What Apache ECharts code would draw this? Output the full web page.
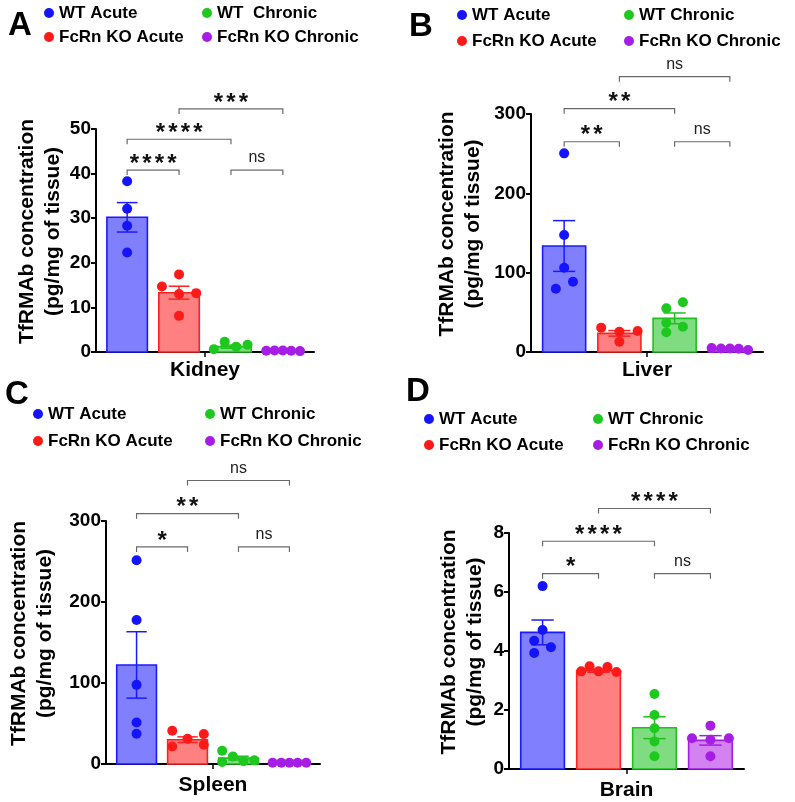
<!DOCTYPE html>
<html>
<head>
<meta charset="utf-8">
<script src="https://cdn.jsdelivr.net/npm/echarts@6/dist/echarts.min.js"></script>
<style>
html, body { margin: 0; padding: 0; background: #fff; }
#main { width: 795px; height: 802px; }
</style>
</head>
<body>
<div id="main"></div>
<script>
const groups = ['WT Acute', 'FcRn KO Acute', 'WT Chronic', 'FcRn KO Chronic']
const tissues = ['Kidney', 'Liver', 'Spleen', 'Brain']
const yMax = [50, 300, 300, 8]
const yStep = [10, 100, 100, 2]

// Kidney
const kidneyMean = [30.2, 13.3, 1.2, 0.25]
const kidneyErr = [3.3, 1.45, 0.35, 0.05]
const kidneyPoints = [[38.3, 32.1, 28.3, 22.3], [14.7, 17.4, 13.0, 13.2, 8.1], [0.6, 2.3, 1.2, 1.6], [0.3, 0.35, 0.35, 0.3, 0.2]]
const kidneyJitter = [[0, 0, 0, 0], [-0.33, 0, 0, 0.33, 0], [-0.33, -0.12, 0.1, 0.32], [-0.32, -0.16, 0, 0.16, 0.33]]
const kidneyStats = [[0, 1, 40.8, '****'], [0, 2, 47.7, '****'], [1, 3, 54.5, '***'], [2, 3, 40.8, 'ns']]

// Liver
const liverMean = [133.6, 23.5, 42.4, 4]
const liverErr = [32, 3.5, 6.8, 0.5]
const liverPoints = [[250.4, 147.5, 106.3, 79.8, 88.6], [30.7, 25.6, 26.5, 13.0], [55, 62.6, 36.9, 31.9, 24.8], [5, 4.5, 4.5, 4, 2.5]]
const liverJitter = [[0, 0, 0, -0.15, 0.16], [-0.33, 0, 0.33, 0], [-0.15, 0.15, -0.15, 0.15, -0.15], [-0.33, -0.16, 0, 0.16, 0.33]]
const liverStats = [[0, 1, 265, '**'], [0, 2, 306.7, '**'], [1, 3, 347, 'ns'], [2, 3, 265, 'ns']]

// Spleen
const spleenMean = [122.3, 30, 7.3, 1.5]
const spleenErr = [41, 3.5, 2.3, 0.2]
const spleenPoints = [[251.5, 177.7, 97.7, 51.3, 37.4], [41, 31.2, 36.9, 21.7, 23.8], [16.4, 9.4, 2.5, 3.3, 4.5], [1.5, 1.5, 1.5, 1.5, 1.5]]
const spleenJitter = [[0, 0, 0, 0, 0], [-0.3, 0, 0.32, -0.3, 0.32], [-0.32, -0.11, -0.32, 0.1, 0.31], [-0.33, -0.16, 0, 0.16, 0.33]]
const spleenStats = [[0, 1, 268, '*'], [0, 2, 309, '**'], [1, 3, 350, 'ns'], [2, 3, 268, 'ns']]

// Brain
const brainMean = [4.63, 3.33, 1.4, 0.97]
const brainErr = [0.42, 0.05, 0.37, 0.16]
const brainPoints = [[6.2, 4.71, 4.35, 4.13, 3.93], [3.31, 3.48, 3.31, 3.46, 3.29], [2.54, 1.83, 1.38, 0.93, 0.43], [1.47, 1.04, 0.99, 1.04, 0.43]]
const brainJitter = [[0, 0, -0.15, 0.15, -0.15], [-0.31, -0.16, 0, 0.16, 0.32], [0, 0, 0, 0, 0], [0, -0.33, 0, 0.33, 0]]
const brainStats = [[0, 1, 6.62, '*'], [0, 2, 7.72, '****'], [1, 3, 8.83, '****'], [2, 3, 6.62, 'ns']]

const dotColors = ['#1414ff', '#ff1a1a', '#1ec81e', '#a61ee6']
const fillColors = ['#8080ff', '#ff8080', '#80dc80', '#d382f2']
const lineColors = ['#1a1aff', '#ff2020', '#20c020', '#a020e0']
const FONT = '"Liberation Sans", Arial, sans-serif'

const panels = [
  { mean: kidneyMean, err: kidneyErr, points: kidneyPoints, jitter: kidneyJitter, stats: kidneyStats },
  { mean: liverMean, err: liverErr, points: liverPoints, jitter: liverJitter, stats: liverStats },
  { mean: spleenMean, err: spleenErr, points: spleenPoints, jitter: spleenJitter, stats: spleenStats },
  { mean: brainMean, err: brainErr, points: brainPoints, jitter: brainJitter, stats: brainStats }
]

const grids = [
  { left: 96, top: 129, width: 218, height: 223 },
  { left: 531, top: 114, width: 232, height: 238 },
  { left: 106, top: 521, width: 214, height: 243 },
  { left: 509, top: 533, width: 235, height: 238 }
]
const nameGaps = [30, 45, 48, 21]
const legendPos = [
  [44, 202, 4, 6], [457, 624, 6, 8], [33, 205, 405, 9], [424, 593, 410, 8]
]
const letters = [['A', 20, 26], ['B', 421, 27], ['C', 17, 395], ['D', 418, 392]]

const chart = echarts.init(document.getElementById('main'))

const xAxis = []
const yAxis = []
const series = []
const legend = []

panels.forEach(function (pd, p) {
  xAxis.push({
    type: 'value', gridIndex: p, min: -2.1, max: 2.1,
    name: tissues[p], nameLocation: 'middle', nameGap: p < 2 ? 8 : 11,
    nameTextStyle: { fontFamily: FONT, fontWeight: 'bold', fontSize: 21, color: '#000', lineHeight: 21 },
    axisLine: { onZero: false, lineStyle: { color: '#000', width: 2 } },
    axisTick: { show: true, customValues: [0], length: 5, lineStyle: { color: '#000', width: 1.5 } },
    axisLabel: { show: false },
    splitLine: { show: false }
  })
  yAxis.push({
    type: 'value', gridIndex: p, min: 0, max: yMax[p], interval: yStep[p],
    name: 'TfRMAb concentration\n(pg/mg of tissue)', nameLocation: 'middle', nameGap: nameGaps[p], nameRotate: 90,
    nameTextStyle: { fontFamily: FONT, fontWeight: 'bold', fontSize: 21, color: '#000', lineHeight: 26, padding: [0, 0, 0, 18] },
    axisLine: { show: true, onZero: false, lineStyle: { color: '#000', width: 2 } },
    axisTick: { show: true, length: 5, lineStyle: { color: '#000', width: 2 } },
    axisLabel: { fontFamily: FONT, fontWeight: 'bold', fontSize: 19, color: '#000', margin: 5 },
    splitLine: { show: false }
  })

  // bars + error bars
  series.push({
    type: 'custom', xAxisIndex: p, yAxisIndex: p, z: 2, silent: true,
    data: pd.mean.map(function (m, g) { return [g - 1.5, m, pd.err[g], g] }),
    renderItem: function (params, api) {
      const x = api.value(0), m = api.value(1), e = api.value(2), g = api.value(3)
      const base = api.coord([x, 0])
      const top = api.coord([x, m])
      const w = api.size([0.78, 0])[0]
      const cap = api.size([0.4, 0])[0]
      const hi = api.coord([x, m + e])
      const lo = api.coord([x, Math.max(m - e, 0)])
      const ls = { stroke: lineColors[g], lineWidth: 1.5 }
      return {
        type: 'group',
        children: [
          { type: 'rect', shape: { x: base[0] - w / 2, y: top[1], width: w, height: base[1] - top[1] },
            style: { fill: fillColors[g], stroke: lineColors[g], lineWidth: 1.6 } },
          { type: 'line', shape: { x1: hi[0], y1: hi[1], x2: lo[0], y2: lo[1] }, style: ls },
          { type: 'line', shape: { x1: hi[0] - cap / 2, y1: hi[1], x2: hi[0] + cap / 2, y2: hi[1] }, style: ls },
          { type: 'line', shape: { x1: lo[0] - cap / 2, y1: lo[1], x2: lo[0] + cap / 2, y2: lo[1] }, style: ls }
        ]
      }
    }
  })

  // individual animals
  pd.points.forEach(function (vals, g) {
    series.push({
      name: groups[g], type: 'scatter', xAxisIndex: p, yAxisIndex: p, z: 5,
      symbolSize: 10, itemStyle: { color: dotColors[g], opacity: 1 },
      data: vals.map(function (v, k) { return [g - 1.5 + pd.jitter[g][k], v] })
    })
  })

  // significance brackets
  series.push({
    type: 'custom', xAxisIndex: p, yAxisIndex: p, z: 6, silent: true, clip: false,
    data: pd.stats.map(function (s) { return [s[0] - 1.5, s[1] - 1.5, s[2]] }),
    renderItem: function (params, api) {
      const s = pd.stats[params.dataIndex]
      const a = api.coord([api.value(0), api.value(2)])
      const b = api.coord([api.value(1), api.value(2)])
      const drop = 5
      const children = [{
        type: 'polyline',
        shape: { points: [[a[0], a[1] + drop], a, b, [b[0], b[1] + drop]] },
        style: { stroke: '#6a6a6a', lineWidth: 1.2, fill: null }
      }]
      const cx = (a[0] + b[0]) / 2
      if (s[3] === 'ns') {
        children.push({ type: 'text', style: { text: 'ns', x: cx, y: a[1] - 4, align: 'center', verticalAlign: 'bottom',
          textAlign: 'center', textVerticalAlign: 'bottom', font: '16px ' + FONT, fill: '#222' } })
      } else {
        const n = s[3].length, pitch = 12.5
        for (let k = 0; k < n; k++) {
          children.push({ type: 'text', style: { text: '*', x: cx + (k - (n - 1) / 2) * pitch, y: a[1] - 6,
            align: 'center', verticalAlign: 'middle', textAlign: 'center', textVerticalAlign: 'middle',
            font: 'bold 24px ' + FONT, fill: '#111' } })
        }
      }
      return { type: 'group', children: children }
    }
  })

  const lp = legendPos[p]
  const legendBase = {
    orient: 'vertical', icon: 'circle', itemWidth: 10, itemHeight: 10, itemGap: lp[3],
    top: lp[2], padding: 0, selectedMode: false,
    textStyle: { fontFamily: FONT, fontWeight: 'bold', fontSize: 17, color: '#000', lineHeight: 18 }
  }
  legend.push(Object.assign({}, legendBase, { left: lp[0], data: [groups[0], groups[1]] }))
  legend.push(Object.assign({}, legendBase, {
    left: lp[1], data: [groups[2], groups[3]],
    formatter: function (name) { return (p === 0 && name === 'WT Chronic') ? 'WT  Chronic' : name }
  }))
})

chart.setOption({
  animation: false,
  backgroundColor: '#fff',
  grid: grids,
  xAxis: xAxis,
  yAxis: yAxis,
  legend: legend,
  graphic: letters.map(function (l) {
    return { type: 'text', x: l[1], y: l[2], style: { text: l[0], font: 'bold 33px ' + FONT, fill: '#000',
      align: 'center', verticalAlign: 'middle', textAlign: 'center', textVerticalAlign: 'middle' } }
  }),
  series: series
})
</script>
</body>
</html>
